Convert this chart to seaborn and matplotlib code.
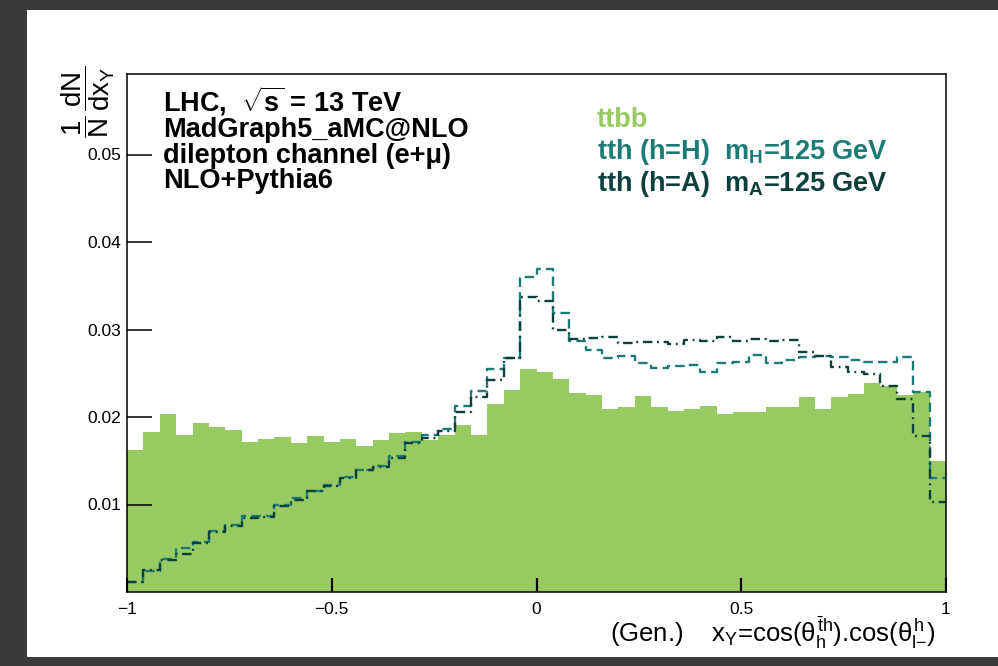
import numpy as np
import pandas as pd
import seaborn as sns
from matplotlib import pyplot as plt
from matplotlib.patches import Rectangle

# -----------------------------------------------------------------
# ビンの値 (図から読み取り, 50 bins, -1 .. 1)
# -----------------------------------------------------------------
x_lo, x_hi, n_bins = -1.0, 1.0, 50

ttbb = [0.0162, 0.0183, 0.0204, 0.0179, 0.0193, 0.0189, 0.0185, 0.0172, 0.0175, 0.0177,
        0.0170, 0.0178, 0.0172, 0.0175, 0.0167, 0.0174, 0.0182, 0.0183, 0.0174, 0.0179,
        0.0191, 0.0179, 0.0215, 0.0231, 0.0255, 0.0251, 0.0244, 0.0227, 0.0225, 0.0209,
        0.0212, 0.0224, 0.0212, 0.0207, 0.0209, 0.0213, 0.0204, 0.0206, 0.0206, 0.0212,
        0.0211, 0.0223, 0.0209, 0.0223, 0.0226, 0.0239, 0.0235, 0.0225, 0.0228, 0.0150]

tth_H = [0.0011, 0.0024, 0.0038, 0.0050, 0.0057, 0.0070, 0.0077, 0.0087, 0.0087, 0.0100,
         0.0107, 0.0116, 0.0122, 0.0132, 0.0140, 0.0144, 0.0155, 0.0172, 0.0179, 0.0186,
         0.0213, 0.0230, 0.0255, 0.0268, 0.0360, 0.0369, 0.0319, 0.0287, 0.0276, 0.0268,
         0.0270, 0.0262, 0.0256, 0.0258, 0.0259, 0.0252, 0.0262, 0.0263, 0.0271, 0.0262,
         0.0265, 0.0269, 0.0270, 0.0268, 0.0265, 0.0263, 0.0263, 0.0268, 0.0228, 0.0130]

tth_A = [0.0011, 0.0025, 0.0037, 0.0043, 0.0056, 0.0069, 0.0076, 0.0085, 0.0086, 0.0098,
         0.0105, 0.0115, 0.0121, 0.0130, 0.0139, 0.0143, 0.0153, 0.0170, 0.0176, 0.0184,
         0.0206, 0.0223, 0.0242, 0.0268, 0.0337, 0.0333, 0.0299, 0.0289, 0.0290, 0.0291,
         0.0284, 0.0286, 0.0286, 0.0284, 0.0288, 0.0287, 0.0291, 0.0287, 0.0289, 0.0287,
         0.0288, 0.0274, 0.0270, 0.0257, 0.0251, 0.0249, 0.0235, 0.0220, 0.0178, 0.0103]

xtick_vals = [-1, -0.5, 0, 0.5, 1]
xtick_labels = ["\u22121", "\u22120.5", "0", "0.5", "1"]
ytick_vals = [0.01, 0.02, 0.03, 0.04, 0.05]
ytick_labels = ["0.01", "0.02", "0.03", "0.04", "0.05"]

info_lines = [r"LHC,  $\mathbf{\sqrt{s}}$ = 13 TeV",
              "MadGraph5_aMC@NLO",
              "dilepton channel (e+\u03bc)",
              "NLO+Pythia6"]
legend_labels = ["ttbb",
                 r"tth (h=H)  m$_\mathbf{H}$=125 GeV",
                 r"tth (h=A)  m$_\mathbf{A}$=125 GeV"]

c_ttbb = "#98ca62"
c_H = "#1c7b75"
c_A = "#0d403c"

# -----------------------------------------------------------------
# スタイル
# -----------------------------------------------------------------
sns.set_style("white")
plt.rcParams["font.family"] = ["Liberation Sans", "DejaVu Sans"]
plt.rcParams["mathtext.fontset"] = "custom"
plt.rcParams["mathtext.rm"] = "Liberation Sans"
plt.rcParams["mathtext.it"] = "Liberation Sans"
plt.rcParams["mathtext.bf"] = "Liberation Sans:bold"
plt.rcParams["axes.unicode_minus"] = True
plt.rcParams["text.color"] = "black"
plt.rcParams["xtick.color"] = "black"
plt.rcParams["ytick.color"] = "black"
plt.rcParams["xtick.bottom"] = True
plt.rcParams["ytick.left"] = True

edges = np.linspace(x_lo, x_hi, n_bins + 1)
centers = (edges[:-1] + edges[1:]) / 2
bin_list = edges.tolist()
df = pd.DataFrame({"x": centers, "ttbb": ttbb, "tth_H": tth_H, "tth_A": tth_A})

W, H = 998, 666


def fpos(px, py):
    # ピクセル座標 -> figure座標
    return px / W, 1 - py / H


fig = plt.figure(figsize=(W / 100, H / 100), dpi=100, facecolor="#3b3b3b")
fig.patches.append(Rectangle((27 / W, 9 / H), 1 - 27 / W, 647 / H,
                             transform=fig.transFigure, facecolor="white",
                             edgecolor="none", zorder=-1))

ax = fig.add_axes([127 / W, (H - 592) / H, (946 - 127) / W, (592 - 74) / H])

# ヒストグラム
sns.histplot(data=df, x="x", weights="ttbb", bins=bin_list, element="step",
             fill=True, color=c_ttbb, alpha=1, linewidth=0, zorder=1, ax=ax)
sns.histplot(data=df, x="x", weights="tth_H", bins=bin_list, element="step",
             fill=False, color=c_H, linewidth=1.7, linestyle=(0, (4, 2.2)),
             zorder=2, ax=ax)
sns.histplot(data=df, x="x", weights="tth_A", bins=bin_list, element="step",
             fill=False, color=c_A, linewidth=1.7,
             linestyle=(0, (4, 2, 0.8, 2)), zorder=2, ax=ax)

ax.set_xlim(x_lo, x_hi)
ax.set_ylim(0, 0.0592)
ax.set_xlabel("")
ax.set_ylabel("")
ax.set_xticks(xtick_vals)
ax.set_xticklabels(xtick_labels)
ax.set_yticks(ytick_vals)
ax.set_yticklabels(ytick_labels)
ax.tick_params(axis="y", left=True, direction="in", length=18, width=1.1,
               labelsize=12.5, pad=4, colors="black")
ax.tick_params(axis="x", bottom=True, direction="in", length=10, width=1.5,
               labelsize=12.5, pad=7, colors="black")
ax.set_axisbelow(False)
ax.xaxis.set_zorder(10)
ax.yaxis.set_zorder(10)
# x方向の目盛り線 (内向き) を明示的に描く
ax.vlines(xtick_vals, 0, 14 / 518, transform=ax.get_xaxis_transform(),
          colors="black", linewidth=1.5, zorder=10)
for s in ax.spines.values():
    s.set_linewidth(1.1)
    s.set_color("black")
    s.set_visible(True)
    s.set_zorder(11)
ax.set_facecolor("white")

# テキスト
for i, t in enumerate(info_lines):
    fig.text(*fpos(163, 112 + 25.4 * i), t, fontsize=19.5, fontweight="bold",
             ha="left", va="baseline", color="black")

for t, c, y in zip(legend_labels, [c_ttbb, c_H, c_A], [127, 159, 191]):
    fig.text(*fpos(597, y), t, fontsize=19.5, fontweight="bold", color=c,
             ha="left", va="baseline")

fig.text(*fpos(88, 66), r"$\dfrac{1}{N}\,\dfrac{dN}{dx_{Y}}$", rotation=90,
         fontsize=20, ha="center", va="top", color="black")
fig.text(*fpos(936, 642),
         r"(Gen.)    $x_{Y}$=cos($\theta^{\bar{t}h}_{h}$).cos($\theta^{h}_{l\mathrm{-}}$)",
         fontsize=18.5, ha="right", va="baseline", color="black")

fig.savefig("out.png", dpi=100, facecolor=fig.get_facecolor())
